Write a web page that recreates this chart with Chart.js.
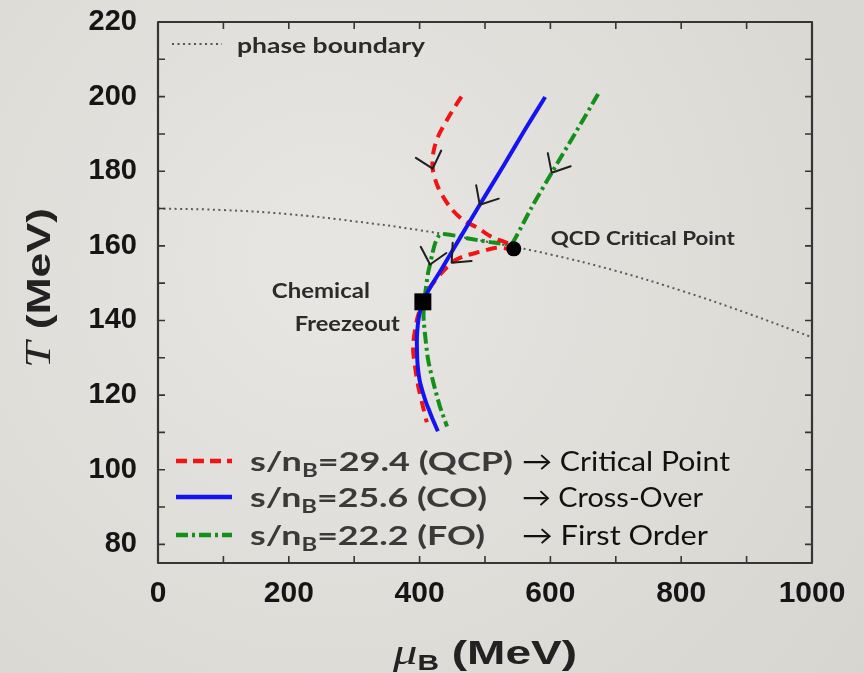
<!DOCTYPE html>
<html><head><meta charset="utf-8">
<script src="https://cdn.jsdelivr.net/npm/chart.js@4/dist/chart.umd.min.js"></script>
<style>html,body{margin:0;padding:0;background:#e1dfda;}#wrap{width:864px;height:673px;position:relative}</style>
</head><body><div id="wrap"><canvas id="c" width="864" height="673"></canvas></div>
<script>
// ---- tick values ----
const xTickLabels = [0, 200, 400, 600, 800, 1000];
const yTickLabels = [80, 100, 120, 140, 160, 180, 200, 220];
const xMinorTicks = [0, 100, 200, 300, 400, 500, 600, 700, 800, 900, 1000];
const yMinorTicks = [80, 90, 100, 110, 120, 130, 140, 150, 160, 170, 180, 190, 200, 210, 220];

// ---- phase boundary ----
const phaseMu = [0, 100, 200, 300, 400, 500, 600, 700, 800, 900, 1000];
const phaseT  = [170, 169.6, 168.5, 166.6, 164.2, 161.2, 157.7, 153.3, 148, 142, 135.5];

// ---- s/nB = 29.4 (QCP), red dashed ----
const redMu = [464, 453, 442, 428, 421, 420, 428, 446, 466, 488, 512, 533, 544, 518, 492, 466, 449, 434, 421, 411, 405, 396, 390, 393, 398, 405, 411];
const redT  = [200, 197, 193.8, 189.2, 185, 180.7, 175.8, 170.5, 167, 164.9, 162.2, 160.8, 159.2, 159.5, 158.4, 157.1, 155.5, 152.8, 150.1, 147.5, 145, 140.2, 133, 127.7, 122.3, 117, 112.7];

// ---- s/nB = 25.6 (CO), blue solid ----
const blueMu = [592, 561, 529, 492, 460, 433, 417, 405, 399, 396, 396, 397, 400, 405, 410, 416, 422, 428];
const blueT  = [199.9, 191.1, 181.7, 171.0, 161.6, 153.6, 149.1, 145, 141, 136, 132, 128, 124, 120.7, 118, 115.3, 112.7, 110.3];

// ---- s/nB = 22.2 (FO), green dash-dot ----
const greenMu = [673, 638, 602, 571, 548, 540, 508, 477, 446, 431, 424, 419, 416, 413, 410, 407, 406, 408, 413, 421, 431, 442];
const greenT  = [200.7, 190.2, 179.6, 170.2, 162.6, 160.6, 161.0, 161.9, 163, 163, 160.8, 157.5, 155, 152.8, 149.1, 145, 141, 136.8, 129.5, 123.4, 117, 111.6];

// ---- special points ----
const criticalPoint = {mu: 544, T: 159.2};
const freezeout = {mu: 405, T: 145};

// ---- flow arrows: [series, point index] ----
const arrowSpecs = [["red", 5], ["red", 16], ["blue", 3], ["green", 2], ["green", 12]];

const seriesData = {red: [redMu, redT], blue: [blueMu, blueT], green: [greenMu, greenT]};
const mk = (mu, T) => mu.map((m, i) => ({x: m, y: T[i]}));

const RED = '#f01414', BLUE = '#1414f2', GREEN = '#14901a';
const HUM = "Lato, 'Open Sans', sans-serif";

function drawRuns(ctx, runs, x, y, targetW, align) {
  let w = 0;
  runs.forEach(r => { ctx.font = r.font; r.w = ctx.measureText(r.t).width; w += r.w; });
  const s = targetW ? targetW / w : 1;
  ctx.save();
  ctx.translate(x, y);
  ctx.scale(s, 1);
  ctx.textBaseline = 'alphabetic';
  ctx.textAlign = 'left';
  let cx = align === 'center' ? -w / 2 : 0;
  runs.forEach(r => { ctx.font = r.font; ctx.fillStyle = r.color; ctx.fillText(r.t, cx, r.dy || 0); cx += r.w; });
  ctx.restore();
}

const bgPlugin = {
  id: 'bg',
  beforeDraw(chart) {
    const c = chart.ctx;
    const g = c.createRadialGradient(330, 260, 50, 330, 260, 720);
    g.addColorStop(0, '#e7e5e1');
    g.addColorStop(1, '#d6d4cf');
    c.save(); c.fillStyle = g; c.fillRect(0, 0, chart.width, chart.height); c.restore();
  }
};

const framePlugin = {
  id: 'frame',
  afterDatasetsDraw(chart) {
    const c = chart.ctx, a = chart.chartArea, xs = chart.scales.x, ys = chart.scales.y;
    c.save();
    // arrows
    c.strokeStyle = '#1e1e1e'; c.lineWidth = 2; c.lineCap = 'round'; c.lineJoin = 'round';
    arrowSpecs.forEach(([name, i]) => {
      const [mu, T] = seriesData[name];
      const x0 = xs.getPixelForValue(mu[i]), y0 = ys.getPixelForValue(T[i]);
      const x1 = xs.getPixelForValue(mu[i + 1]), y1 = ys.getPixelForValue(T[i + 1]);
      const ang = Math.atan2(y1 - y0, x1 - x0);
      const L = 20, h = 0.72;
      c.beginPath();
      c.moveTo(x0 - L * Math.cos(ang - h), y0 - L * Math.sin(ang - h));
      c.lineTo(x0, y0);
      c.lineTo(x0 - L * Math.cos(ang + h), y0 - L * Math.sin(ang + h));
      c.stroke();
    });
    // frame
    c.strokeStyle = '#363636'; c.lineWidth = 2.2; c.lineCap = 'butt';
    c.strokeRect(a.left, a.top, a.right - a.left, a.bottom - a.top);
    c.lineWidth = 1.6;
    const tl = 7;
    c.beginPath();
    xMinorTicks.forEach(v => {
      const p = xs.getPixelForValue(v);
      c.moveTo(p, a.bottom); c.lineTo(p, a.bottom - tl);
      c.moveTo(p, a.top); c.lineTo(p, a.top + tl);
    });
    yMinorTicks.forEach(v => {
      const p = ys.getPixelForValue(v);
      c.moveTo(a.left, p); c.lineTo(a.left + tl, p);
      c.moveTo(a.right, p); c.lineTo(a.right - tl, p);
    });
    c.stroke();
    c.restore();
  },
  afterDraw(chart) {
    const c = chart.ctx, a = chart.chartArea, xs = chart.scales.x, ys = chart.scales.y;
    const dark = '#2b2b2b';
    // phase boundary legend
    c.save();
    c.strokeStyle = '#555'; c.lineWidth = 2; c.setLineDash([2, 3.5]);
    c.beginPath(); c.moveTo(a.left + 14, a.top + 22); c.lineTo(a.left + 64, a.top + 22); c.stroke();
    c.restore();
    drawRuns(c, [{t: 'phase boundary', font: `bold 21px ${HUM}`, color: dark}], a.left + 79, a.top + 31, 188);
    // annotations
    drawRuns(c, [{t: 'QCD Critical Point', font: `bold 19px ${HUM}`, color: dark}],
      xs.getPixelForValue(criticalPoint.mu) + 37, ys.getPixelForValue(criticalPoint.T) - 4, 184);
    drawRuns(c, [{t: 'Chemical', font: `bold 21px ${HUM}`, color: dark}],
      xs.getPixelForValue(freezeout.mu) - 151, ys.getPixelForValue(freezeout.T) - 4, 98);
    drawRuns(c, [{t: 'Freezeout', font: `bold 21px ${HUM}`, color: dark}],
      xs.getPixelForValue(freezeout.mu) - 128, ys.getPixelForValue(freezeout.T) + 29, 105);
    // series legend
    const rows = [
      {color: RED, dash: [11, 6], lab: '=29.4 (QCP)', w: 263, arr: '\u2192 Critical Point', aw: 208, y: 461},
      {color: BLUE, dash: [], lab: '=25.6 (CO)', w: 237, arr: '\u2192 Cross-Over', aw: 181, y: 497},
      {color: GREEN, dash: [12, 4, 3, 4], lab: '=22.2 (FO)', w: 235, arr: '\u2192 First Order', aw: 186, y: 535}
    ];
    rows.forEach(r => {
      c.save();
      c.strokeStyle = r.color; c.lineWidth = 4.5; c.setLineDash(r.dash);
      c.beginPath(); c.moveTo(a.left + 18, r.y); c.lineTo(a.left + 74, r.y); c.stroke();
      c.restore();
      const g = '#3a3a3a';
      drawRuns(c, [
        {t: 's/n', font: `bold 27px ${HUM}`, color: g},
        {t: 'B', font: `bold 18px ${HUM}`, color: g, dy: 6},
        {t: r.lab, font: `bold 27px ${HUM}`, color: g}
      ], a.left + 92, r.y + 10, r.w);
      drawRuns(c, [{t: r.arr, font: `27px ${HUM}`, color: '#111'}], a.left + 364, r.y + 10, r.aw);
    });
    // axis titles
    c.save();
    c.translate(50, 288);
    c.rotate(-Math.PI / 2);
    drawRuns(c, [
      {t: 'T', font: "italic 36px 'Liberation Serif', serif", color: '#222'},
      {t: ' (MeV)', font: "bold 34px 'Liberation Sans', Arial, sans-serif", color: '#222'}
    ], 0, 0, 160, 'center');
    c.restore();
    drawRuns(c, [
      {t: '\u03bc', font: "italic 36px 'Liberation Serif', serif", color: '#222'},
      {t: 'B', font: "bold 22px 'Liberation Sans', Arial, sans-serif", color: '#222', dy: 6},
      {t: ' (MeV)', font: "bold 34px 'Liberation Sans', Arial, sans-serif", color: '#222'}
    ], 485, 664, 184, 'center');
  }
};

new Chart(document.getElementById('c'), {
  type: 'scatter',
  data: {
    datasets: [
      {label: 'phase boundary', data: mk(phaseMu, phaseT), showLine: true, borderColor: '#5a5a5a', borderWidth: 2,
        borderDash: [2, 3.5], pointRadius: 0, tension: 0.4, order: 6},
      {label: 's/nB=22.2 (FO)', data: mk(greenMu, greenT), showLine: true, borderColor: GREEN, borderWidth: 4,
        borderDash: [12, 4, 3, 4], pointRadius: 0, tension: 0.25, order: 5},
      {label: 's/nB=29.4 (QCP)', data: mk(redMu, redT), showLine: true, borderColor: RED, borderWidth: 4,
        borderDash: [11, 7], pointRadius: 0, tension: 0.3, order: 4},
      {label: 's/nB=25.6 (CO)', data: mk(blueMu, blueT), showLine: true, borderColor: BLUE, borderWidth: 4,
        pointRadius: 0, tension: 0.3, order: 3},
      {label: 'QCD Critical Point', data: [{x: criticalPoint.mu, y: criticalPoint.T}], pointStyle: 'circle',
        pointRadius: 7.5, backgroundColor: '#000', borderWidth: 0, order: 1},
      {label: 'Chemical Freezeout', data: [{x: freezeout.mu, y: freezeout.T}], pointStyle: 'rect',
        pointRadius: 12, backgroundColor: '#000', borderWidth: 0, order: 1}
    ]
  },
  options: {
    responsive: false, animation: false, events: [],
    layout: {padding: {top: 22, right: 52, left: 0, bottom: 0}},
    plugins: {legend: {display: false}, tooltip: {enabled: false}},
    scales: {
      x: {
        type: 'linear', min: 0, max: 1000,
        afterBuildTicks: s => { s.ticks = xTickLabels.map(v => ({value: v})); },
        afterFit: s => { s.height = 110; s.paddingLeft = 0; s.paddingRight = 0; },
        grid: {display: false, drawTicks: false}, border: {display: false},
        ticks: {font: {family: "'Liberation Sans', Arial, sans-serif", weight: 'bold', size: 30}, color: '#151515',
          padding: 13, maxRotation: 0, autoSkip: false, callback: v => String(v)}
      },
      y: {
        type: 'linear', min: 75, max: 220,
        afterBuildTicks: s => { s.ticks = yTickLabels.map(v => ({value: v})); },
        afterFit: s => { s.width = 158; s.paddingTop = 0; s.paddingBottom = 0; },
        grid: {display: false, drawTicks: false}, border: {display: false},
        ticks: {font: {family: "'Liberation Sans', Arial, sans-serif", weight: 'bold', size: 29}, color: '#151515',
          padding: 21, autoSkip: false, callback: v => String(v)}
      }
    }
  },
  plugins: [bgPlugin, framePlugin]
});
</script>
</body></html>
